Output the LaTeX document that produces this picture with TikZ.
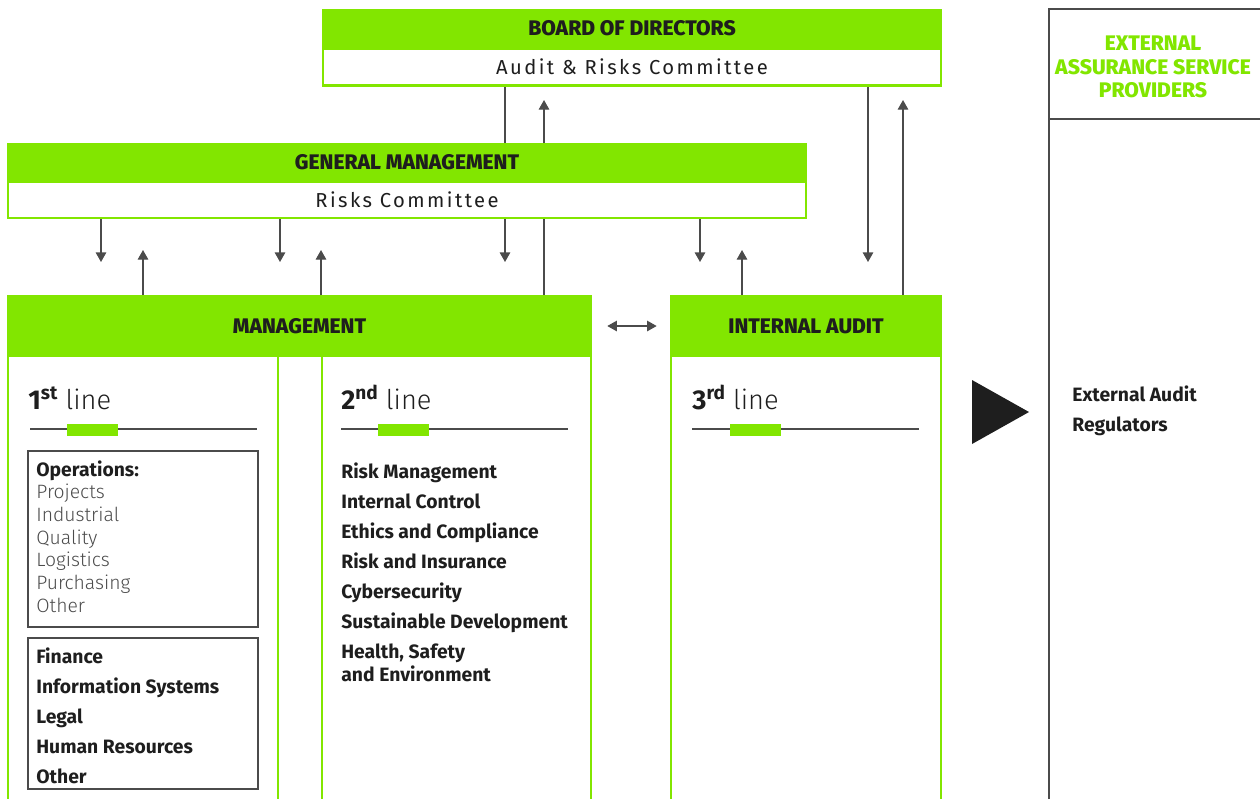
\documentclass[tikz,border=0pt]{standalone}
\usepackage{fontspec}
\setmainfont{Fira Sans}
\newfontfamily\heavyfont{Fira Sans ExtraBold}
\newfontfamily\lightfont{Fira Sans Light}
\usetikzlibrary{arrows.meta,backgrounds}

\definecolor{lime}{RGB}{130,230,0}
\definecolor{ink}{RGB}{30,30,30}
\definecolor{wire}{RGB}{75,75,75}

\begin{document}
\begin{tikzpicture}[x=0.02cm, y=-0.02cm,
  hdr/.style={fill=lime, inner sep=0pt, text=ink,
    font=\heavyfont\fontsize{12}{14}\selectfont},
  sub/.style={fill=white, draw=lime, line width=1.2pt, inner sep=0pt, text=ink,
    font=\fontsize{11.5}{13}\selectfont\addfontfeatures{LetterSpace=12}},
  arr/.style={draw=wire, line width=0.75pt, -{Triangle[length=5.5pt,width=6pt]}},
  twoway/.style={arr, {Triangle[length=5.5pt,width=6pt]}-{Triangle[length=5.5pt,width=6pt]}},
  side/.style={draw=lime, line width=1.2pt},
  rule/.style={draw=wire, line width=0.75pt},
  frame/.style={draw=wire, line width=0.6pt},
  tag/.style={fill=lime},
  lineno/.style={anchor=base west, inner sep=0pt, text=ink, font=\fontsize{15.5}{18}\selectfont},
  items/.style={anchor=north west, align=left, inner sep=0pt, text=ink,
    font=\bfseries\fontsize{11}{13}\selectfont},
]
\useasboundingbox (0,0) rectangle (1260,799);

% board and general management
\node[hdr, minimum width=12.4cm, minimum height=0.78cm] (board) at (632,28.5) {\raisebox{-1pt}{BOARD OF DIRECTORS}};
\node[sub, minimum width=12.36cm, minimum height=0.74cm] (boardsub) at (632,67) {Audit \& Risks Committee};
\node[hdr, minimum width=16cm, minimum height=0.76cm] (gm) at (407,162) {\raisebox{-0.5pt}{GENERAL MANAGEMENT}};
\node[sub, minimum width=15.96cm, minimum height=0.72cm] (gmsub) at (407,200) {Risks Committee};

% the three lines
\node[hdr, minimum width=11.7cm, minimum height=1.24cm] (mgmt) at (299.5,326) {\raisebox{-1pt}{MANAGEMENT}};
\node[hdr, minimum width=5.44cm, minimum height=1.24cm] (ia) at (806,326) {\raisebox{-1pt}{INTERNAL AUDIT}};
\draw[side] (8,357) -- (8,799) (278,357) -- (278,799) (322,357) -- (322,799) (591,357) -- (591,799);
\draw[side] (671,357) -- (671,799) (941,357) -- (941,799);

\node[lineno] (first) at (28,409) {{\bfseries 1\textsuperscript{st}} {\lightfont line}};
\node[lineno] (second) at (341,409) {{\bfseries 2\textsuperscript{nd}} {\lightfont line}};
\node[lineno] (third) at (692,409) {{\bfseries 3\textsuperscript{rd}} {\lightfont line}};
\draw[rule] (30,429) -- (257,429) (341,429) -- (568,429) (692,429) -- (919,429);
\fill[tag] (67,424) rectangle (118,436);
\fill[tag] (378,424) rectangle (429,436);
\fill[tag] (730,424) rectangle (781,436);

% first line lists
\draw[frame] (28,451) rectangle (258,627);
\draw[frame] (28,638) rectangle (258,789);
\node[items, text=wire, font=\lightfont\fontsize{11}{12.9}\selectfont] (ops) at (36,460)
  {{\normalfont\bfseries\fontsize{11}{12.9}\selectfont\color{ink}Operations:}\\ Projects\\ Industrial\\ Quality\\ Logistics\\ Purchasing\\ Other};
\node[items] (support) at (36,647)
  {Finance\\[4.1pt] Information Systems\\[4.1pt] Legal\\[4.1pt] Human Resources\\[4.1pt] Other};

% second line list
\node[items] (control) at (341,462)
  {Risk Management\\[4.1pt] Internal Control\\[4.1pt] Ethics and Compliance\\[4.1pt] Risk and Insurance\\[4.1pt]
   Cybersecurity\\[4.1pt] Sustainable Development\\[4.1pt] Health, Safety\\ and Environment};

% external providers
\draw[rule, line width=0.7pt] (1049,799) -- (1049,9) -- (1260,9) (1049,119) -- (1260,119);
\node[align=center, text=lime, font=\heavyfont\fontsize{12}{13.3}\selectfont] (ext) at (1153,67)
  {EXTERNAL\\ ASSURANCE SERVICE\\ PROVIDERS};
\fill[ink] (972,380) -- (1029,412) -- (972,444) -- cycle;
\node[anchor=west, align=left, inner sep=0pt, text=ink, font=\bfseries\fontsize{11}{17}\selectfont] (auditors) at (1072,411)
  {External Audit\\ Regulators};

% reporting arrows
\coordinate (b1) at (505,262);
\coordinate (b2) at (868,262);
\coordinate (u1) at (544,100);
\coordinate (u2) at (903,100);
\coordinate (g1) at (101,262);
\coordinate (g2) at (280,262);
\coordinate (g3) at (700,262);
\coordinate (m1) at (143,250);
\coordinate (m2) at (321,250);
\coordinate (m3) at (742,250);
\begin{pgfonlayer}{background}
  \draw[arr] (boardsub.south -| b1) -- (b1);
  \draw[arr] (boardsub.south -| b2) -- (b2);
  \draw[arr] (mgmt.north -| u1) -- (u1);
  \draw[arr] (ia.north -| u2) -- (u2);
  \draw[arr] (gmsub.south -| g1) -- (g1);
  \draw[arr] (gmsub.south -| g2) -- (g2);
  \draw[arr] (gmsub.south -| g3) -- (g3);
  \draw[arr] (mgmt.north -| m1) -- (m1);
  \draw[arr] (mgmt.north -| m2) -- (m2);
  \draw[arr] (ia.north -| m3) -- (m3);
\end{pgfonlayer}
\draw[twoway, shorten <=0.3cm, shorten >=0.26cm] (mgmt.east) -- (ia.west);
\end{tikzpicture}
\end{document}
